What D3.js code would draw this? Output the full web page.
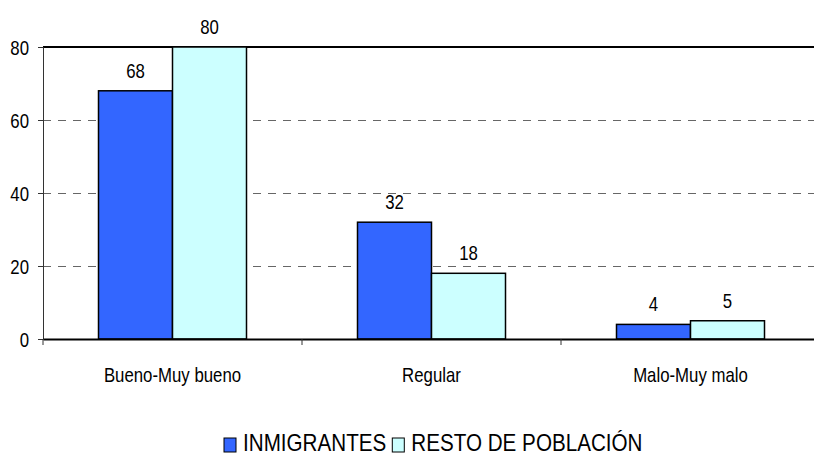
<!DOCTYPE html>
<html>
<head>
<meta charset="utf-8">
<script src="https://cdn.jsdelivr.net/npm/d3@7"></script>
<style>
  body { margin: 0; background: #fff; }
  text { font-family: "Liberation Sans", Arial, sans-serif; fill: #000; }
</style>
</head>
<body>
<div id="chart"></div>
<script>
const categories = ['Bueno-Muy bueno', 'Regular', 'Malo-Muy malo'];
const series = ['INMIGRANTES', 'RESTO DE POBLACIÓN'];
const inmigrantes = [68, 32, 4];
const resto = [80, 18, 5];
const yTicks = [0, 20, 40, 60, 80];
const colors = ['#3366FF', '#CCFFFF'];

const width = 814, height = 456;
const margin = { top: 47, right: -6, bottom: 117, left: 43 };
const squeeze = 0.84; // the original font is a narrow one

const svg = d3.select('#chart')
  .append('svg')
  .attr('width', width)
  .attr('height', height);

// narrow text: position by translate, then squeeze horizontally
const place = (sel, fx, fy, k = squeeze) => sel
  .attr('x', 0).attr('y', 0)
  .attr('transform', (d, i) => `translate(${fx(d, i)},${fy(d, i)}) scale(${k},1)`);

const x0 = d3.scaleBand()
  .domain(categories)
  .range([margin.left, width - margin.right])
  .padding(0);

const x1 = d3.scaleBand()
  .domain(series)
  .range([0, x0.bandwidth()])
  .paddingInner(0)
  .paddingOuter(0.75);

const y = d3.scaleLinear()
  .domain([0, 80])
  .range([height - margin.bottom, margin.top]);

// dashed grid
svg.append('g')
  .selectAll('line')
  .data(yTicks.filter(d => d > 0 && d < 80))
  .join('line')
  .attr('x1', margin.left)
  .attr('x2', width)
  .attr('y1', d => y(d) + 0.5)
  .attr('y2', d => y(d) + 0.5)
  .attr('stroke', '#666')
  .attr('stroke-dasharray', '8,7');

// top border
svg.append('line')
  .attr('x1', margin.left).attr('x2', width)
  .attr('y1', y(80)).attr('y2', y(80))
  .attr('stroke', '#000').attr('stroke-width', 2);

const rows = categories.map((c, i) => ({ cat: c, vals: [inmigrantes[i], resto[i]] }));

const groups = svg.append('g')
  .selectAll('g')
  .data(rows)
  .join('g')
  .attr('transform', d => `translate(${x0(d.cat)},0)`);

groups.selectAll('rect')
  .data(d => d.vals.map((v, j) => ({ key: series[j], v: v, j: j })))
  .join('rect')
  .attr('x', d => x1(d.key))
  .attr('y', d => y(d.v))
  .attr('width', x1.bandwidth())
  .attr('height', d => y(0) - y(d.v))
  .attr('fill', d => colors[d.j])
  .attr('stroke', '#000')
  .attr('stroke-width', 1.5);

groups.selectAll('text')
  .data(d => d.vals.map((v, j) => ({ key: series[j], v: v })))
  .join('text')
  .call(place, d => x1(d.key) + x1.bandwidth() / 2, d => y(d.v) - 13)
  .attr('text-anchor', 'middle')
  .style('font-size', '20px')
  .text(d => d.v);

// y axis
const yAxis = svg.append('g')
  .attr('transform', `translate(${margin.left},0)`)
  .call(d3.axisLeft(y).tickValues(yTicks).tickSize(5).tickFormat(''));
yAxis.select('.domain').attr('stroke', '#333');
yAxis.selectAll('.tick line').attr('stroke', '#333');
yAxis.selectAll('.tick').append('text')
  .call(place, () => -14, () => 0)
  .attr('dy', '0.36em')
  .attr('text-anchor', 'end')
  .style('font-size', '20px')
  .text(d => d);

// x axis
const xAxis = svg.append('g')
  .attr('transform', `translate(0,${y(0)})`)
  .call(d3.axisBottom(x0).tickSize(0).tickFormat(''));
xAxis.select('.domain').attr('stroke', '#000').attr('stroke-width', 2);
xAxis.selectAll('.tick').append('text')
  .call(place, () => 0, () => 43)
  .attr('text-anchor', 'middle')
  .style('font-size', '20px')
  .text(d => d);

// category separators
svg.append('g')
  .selectAll('line')
  .data(categories.map(c => x0(c)).concat([x0.range()[1]]))
  .join('line')
  .attr('x1', d => d).attr('x2', d => d)
  .attr('y1', y(0)).attr('y2', y(0) + 6)
  .attr('stroke', '#333');

// legend
const legend = svg.append('g').attr('transform', 'translate(224,451)');
const lk = 0.86;
let lx = 0;
series.forEach((s, i) => {
  legend.append('rect')
    .attr('x', lx).attr('y', -13)
    .attr('width', 12).attr('height', 14)
    .attr('fill', colors[i])
    .attr('stroke', '#000');
  const t = legend.append('text')
    .datum(s)
    .call(place, () => lx + 19, () => 0, lk)
    .style('font-size', '24px')
    .text(s);
  lx += 19 + t.node().getComputedTextLength() * lk + 6;
});
</script>
</body>
</html>
